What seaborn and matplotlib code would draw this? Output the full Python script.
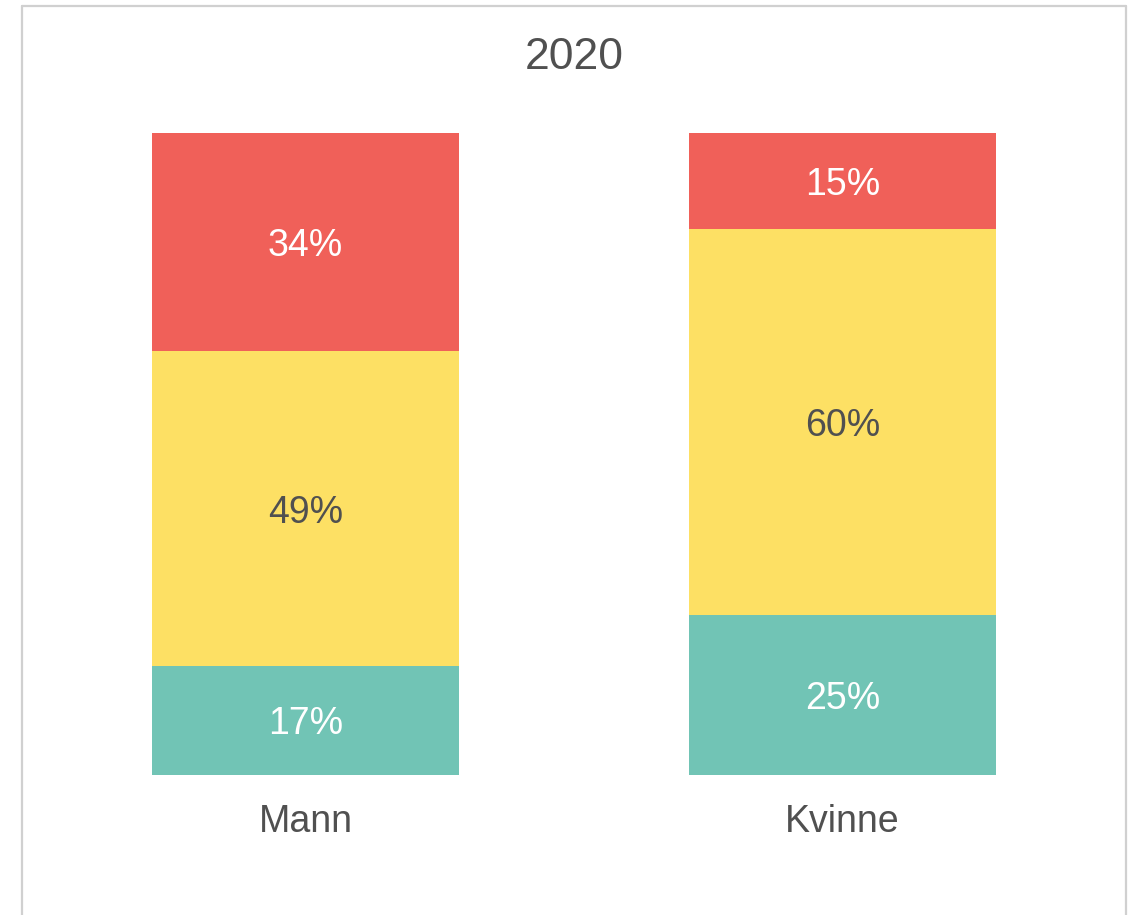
import matplotlib
matplotlib.use("Agg")
import matplotlib.pyplot as plt
from matplotlib.lines import Line2D
import seaborn as sns
import pandas as pd
import numpy as np

categories = ["Mann", "Kvinne"]
series_names = ["Lav", "Middels", "Høy"]  # bottom -> top
green_vals = [17, 25]
yellow_vals = [49, 60]
red_vals = [34, 15]
title = "2020"

colors = ["#71C4B5", "#FDE064", "#F06059"]
label_colors = ["white", "#505050", "white"]

sns.set_theme(style="white")
plt.rcParams["font.family"] = ["Liberation Sans", "DejaVu Sans"]

W, H = 1131, 915
fig = plt.figure(figsize=(W / 100, H / 100), dpi=100)
fig.patch.set_facecolor("white")

left_px, right_px = 37, 1111
bottom_px, top_px = 775, 133
ax = fig.add_axes([left_px / W, (H - bottom_px) / H,
                   (right_px - left_px) / W, (bottom_px - top_px) / H])

layers = [green_vals, yellow_vals, red_vals]
cum = np.cumsum(np.array(layers), axis=0)
df = pd.DataFrame({"cat": categories})

# draw from tallest cumulative to shortest
for i in reversed(range(len(layers))):
    df["h"] = cum[i]
    sns.barplot(data=df, x="cat", y="h", order=categories, color=colors[i],
                saturation=1, width=0.572, linewidth=0, edgecolor="none", ax=ax)

for i, vals in enumerate(layers):
    for j, v in enumerate(vals):
        base = cum[i][j] - v
        ax.text(j, base + v / 2, f"{v}%", ha="center", va="center_baseline",
                fontsize=27, color=label_colors[i])

ax.set_xlim(-0.5, 1.5)
ax.set_ylim(0, 100)
ax.set_xlabel("")
ax.set_ylabel("")
ax.set_yticks([])
ax.tick_params(axis="x", length=0, labelsize=27, labelcolor="#505050", pad=21)
for s in ax.spines.values():
    s.set_visible(False)
ax.set_facecolor("none")

fig.text(574 / W, 1 - 53 / H, title, ha="center", va="center_baseline",
         fontsize=32, color="#505050")

# frame lines (open bottom)
lc = "#D0D0D0"
xl, xr, yt = 22 / W, 1125.5 / W, 1 - 5.7 / H
fig.add_artist(Line2D([xl, xl], [0, yt], color=lc, lw=1.6))
fig.add_artist(Line2D([xr, xr], [0, yt], color=lc, lw=1.6))
fig.add_artist(Line2D([xl, xr], [yt, yt], color=lc, lw=1.6))

fig.savefig("out.png", dpi=100, facecolor="white")
